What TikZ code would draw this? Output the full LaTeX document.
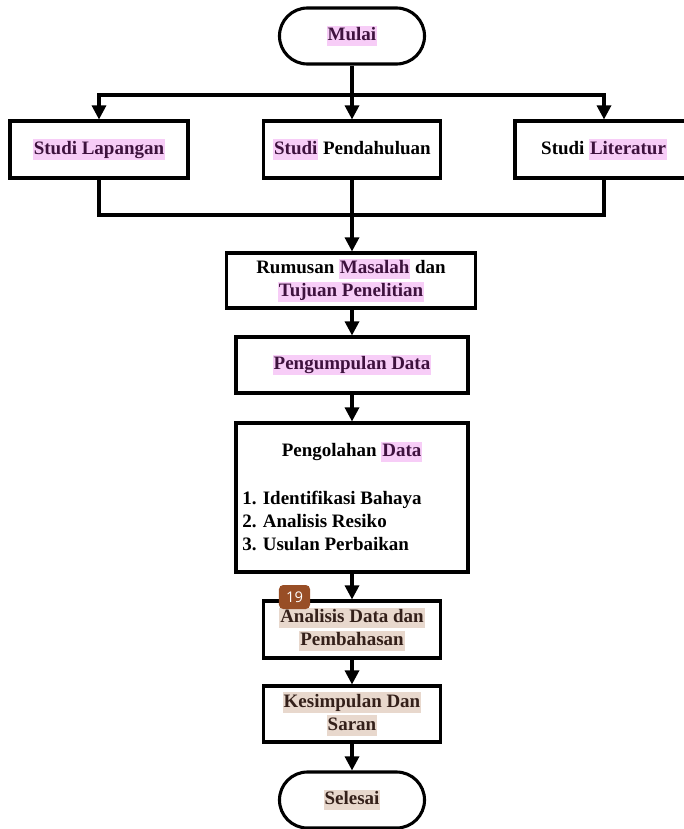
\documentclass[tikz,border=0pt]{standalone}
\usepackage{fontspec}
\setmainfont{Liberation Serif}
\newfontfamily\badgefont{Open Sans}
\usetikzlibrary{arrows.meta, positioning}
\definecolor{hlpink}{RGB}{247, 205, 247}
\definecolor{hlbeige}{RGB}{232, 216, 205}
\definecolor{inkpink}{RGB}{62, 18, 62}
\definecolor{inkbeige}{RGB}{52, 32, 26}
\definecolor{badgebrown}{RGB}{152, 78, 38}
\newcommand{\teks}{\fontsize{13.5}{16.4}\selectfont\bfseries}
\newcommand{\hlp}[1]{{\setlength{\fboxsep}{0.6pt}\colorbox{hlpink}{\color{inkpink}\rule[-0.24em]{0pt}{0.98em}#1}}}
\newcommand{\hlb}[1]{{\setlength{\fboxsep}{0.6pt}\colorbox{hlbeige}{\color{inkbeige}\rule[-0.24em]{0pt}{0.98em}#1}}}

\begin{document}
\begin{tikzpicture}[
  x=0.025cm, y=-0.025cm,
  kotak/.style={draw, line width=2.2pt, fill=white, align=center, inner sep=2pt, font=\teks},
  terminal/.style={kotak, rounded corners=0.7cm, minimum width=3.625cm, minimum height=1.4cm},
  panah/.style={line width=2.2pt, -{Triangle[length=10pt, width=10pt]}},
  garis/.style={line width=2.2pt}
]
  \useasboundingbox (0,0) rectangle (684,829);

  \node[terminal] (mulai) at (352, 36) {\hlp{Mulai}};

  \node[kotak, minimum width=4.45cm, minimum height=1.425cm] (lapangan) at (99, 149.5) {\hlp{Studi Lapangan}};
  \node[kotak, minimum width=4.425cm, minimum height=1.425cm] (pendahuluan) at (352, 149.5) {\hlp{Studi} Pendahuluan};
  \node[kotak, minimum width=4.45cm, minimum height=1.425cm] (literatur) at (604, 149.5) {Studi \hlp{Literatur}};

  \node[kotak, minimum width=6.225cm, minimum height=1.375cm] (rumusan) at (351, 280.5) {Rumusan \hlp{Masalah} dan\\ \hlp{Tujuan Penelitian}};
  \node[kotak, minimum width=5.8cm, minimum height=1.4cm] (kumpul) at (352, 365) {\hlp{Pengumpulan Data}};

  \node[kotak, minimum width=5.8cm, minimum height=3.725cm] (olah) at (352, 497.5) {};
  \node[font=\teks] (olahjudul) at (352, 452) {Pengolahan \hlp{Data}};
  \node[font=\teks, align=left, anchor=west, inner sep=0pt] (olahlist) at (242, 521) {1. Identifikasi Bahaya\\ 2. Analisis Resiko\\ 3. Usulan Perbaikan};

  \node[kotak, minimum width=4.425cm, minimum height=1.425cm] (analisis) at (352, 629.5) {\hlb{Analisis Data dan}\\ \hlb{Pembahasan}};
  \node[kotak, minimum width=4.425cm, minimum height=1.4cm] (simpul) at (352, 714) {\hlb{Kesimpulan Dan}\\ \hlb{Saran}};

  \node[terminal] (selesai) at (352, 800) {\hlb{Selesai}};

  % cabang ke tiga studi
  \coordinate (cabang) at (352, 95);
  \coordinate (gabung) at (352, 215);
  \draw[garis] (mulai.south) -- (cabang);
  \draw[panah] (cabang) -| (lapangan.north);
  \draw[panah] (cabang) -- (pendahuluan.north);
  \draw[panah] (cabang) -| (literatur.north);

  % gabung ke rumusan
  \draw[garis] (lapangan.south) |- (gabung);
  \draw[garis] (literatur.south) |- (gabung);
  \draw[panah] (pendahuluan.south) -- (rumusan.north -| pendahuluan.south);

  \draw[panah] (rumusan.south -| kumpul.north) -- (kumpul.north);
  \draw[panah] (kumpul.south) -- (olah.north);
  \draw[panah] (olah.south) -- (analisis.north);
  \draw[panah] (analisis.south) -- (simpul.north);
  \draw[panah] (simpul.south) -- (selesai.north);

  % penanda halaman
  \node[fill=badgebrown, text=white, rounded corners=3pt, minimum width=0.775cm, minimum height=0.6cm, inner sep=1pt, font=\badgefont\fontsize{10.5}{12}\selectfont] (halaman) at (294.5, 597) {19};
\end{tikzpicture}
\end{document}
